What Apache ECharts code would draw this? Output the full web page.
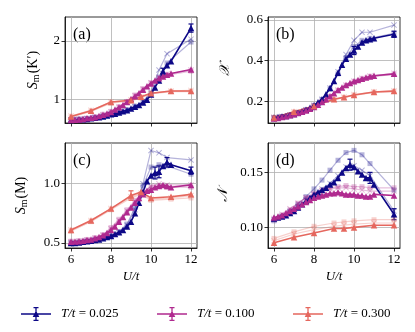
<!DOCTYPE html>
<html>
<head>
<meta charset="utf-8">
<script src="https://cdn.jsdelivr.net/npm/echarts@6/dist/echarts.min.js"></script>
<style>
  html, body { margin: 0; padding: 0; background: #fff; }
  #chart { width: 415px; height: 332px; }
</style>
</head>
<body>
<div id="chart"></div>
<script>
// x grids
const U_DENSE = [6, 6.2, 6.4, 6.6, 6.8, 7, 7.2, 7.4, 7.6, 7.8, 8, 8.2, 8.4, 8.6, 8.8, 9, 9.2, 9.4, 9.6, 9.8, 10, 10.2, 10.4, 10.6, 10.8, 11, 12];
const U_FADE = [6, 6.4, 6.8, 7.2, 7.6, 8, 8.4, 8.8, 9.2, 9.6, 10, 10.4, 10.8, 12];
const U_HOT = [6, 7, 8, 9, 9.5, 10, 11, 12];

const TEMPS = ['T/t = 0.025', 'T/t = 0.100', 'T/t = 0.300'];

// (a) S_m(K')
const aNavy = [0.64, 0.645, 0.65, 0.655, 0.66, 0.67, 0.68, 0.69, 0.70, 0.72, 0.74, 0.75, 0.77, 0.79, 0.81, 0.84, 0.87, 0.90, 0.94, 0.99, 1.08, 1.20, 1.32, 1.48, 1.58, 1.65, 2.22];
const aMagenta = [0.64, 0.645, 0.65, 0.66, 0.67, 0.68, 0.69, 0.71, 0.73, 0.755, 0.78, 0.82, 0.86, 0.90, 0.95, 1.00, 1.05, 1.10, 1.16, 1.22, 1.27, 1.32, 1.36, 1.39, 1.42, 1.44, 1.51];
const aSalmon = [0.70, 0.80, 0.95, 0.98, 1.04, 1.10, 1.14, 1.14];
const aNavyX = [0.64, 0.65, 0.66, 0.68, 0.70, 0.74, 0.77, 0.81, 0.87, 0.96, 1.12, 1.50, 1.78, 2.03];
const aNavySq = [0.65, 0.655, 0.665, 0.685, 0.71, 0.745, 0.78, 0.82, 0.88, 0.95, 1.10, 1.38, 1.62, 1.98];
const aMagentaX = [0.64, 0.65, 0.67, 0.69, 0.73, 0.78, 0.86, 0.95, 1.06, 1.17, 1.28, 1.37, 1.43, 1.50];
const aMagentaSq = [0.65, 0.66, 0.67, 0.70, 0.74, 0.79, 0.87, 0.96, 1.07, 1.18, 1.28, 1.36, 1.41, 1.48];
const aSalmonX = [0.71, 0.81, 0.95, 0.99, 1.04, 1.10, 1.14, 1.15];
const aSalmonSq = [0.69, 0.79, 0.93, 0.97, 1.02, 1.09, 1.13, 1.13];
const aNavyErr = [[10.6, 0.05], [12, 0.07]];

// (b) chi
const bNavy = [0.12, 0.122, 0.125, 0.128, 0.132, 0.137, 0.143, 0.15, 0.158, 0.168, 0.18, 0.195, 0.21, 0.235, 0.265, 0.30, 0.34, 0.38, 0.41, 0.43, 0.45, 0.47, 0.49, 0.50, 0.505, 0.51, 0.53];
const bMagenta = [0.115, 0.118, 0.122, 0.126, 0.131, 0.136, 0.142, 0.148, 0.155, 0.163, 0.172, 0.183, 0.196, 0.21, 0.225, 0.24, 0.255, 0.268, 0.28, 0.29, 0.298, 0.305, 0.311, 0.317, 0.322, 0.326, 0.335];
const bSalmon = [0.12, 0.148, 0.177, 0.21, 0.22, 0.231, 0.246, 0.25];
const bNavyX = [0.12, 0.125, 0.132, 0.143, 0.158, 0.18, 0.21, 0.265, 0.345, 0.43, 0.50, 0.54, 0.54, 0.575];
const bNavySq = [0.12, 0.125, 0.131, 0.142, 0.157, 0.178, 0.208, 0.26, 0.335, 0.415, 0.47, 0.50, 0.51, 0.535];
const bMagentaX = [0.115, 0.122, 0.131, 0.142, 0.155, 0.172, 0.196, 0.225, 0.255, 0.28, 0.30, 0.313, 0.324, 0.338];
const bMagentaSq = [0.114, 0.121, 0.13, 0.141, 0.154, 0.17, 0.194, 0.222, 0.252, 0.277, 0.296, 0.309, 0.32, 0.332];
const bSalmonX = [0.121, 0.149, 0.178, 0.211, 0.221, 0.233, 0.247, 0.252];
const bSalmonSq = [0.119, 0.146, 0.175, 0.208, 0.218, 0.229, 0.244, 0.248];
const bNavyErr = [[10, 0.02], [12, 0.015]];

// (c) S_m(M)
const cNavy = [0.50, 0.50, 0.505, 0.51, 0.515, 0.52, 0.525, 0.53, 0.54, 0.55, 0.56, 0.575, 0.59, 0.61, 0.64, 0.68, 0.75, 0.84, 0.93, 1.02, 1.07, 1.09, 1.10, 1.15, 1.18, 1.16, 1.11];
const cMagenta = [0.51, 0.512, 0.515, 0.52, 0.525, 0.53, 0.54, 0.55, 0.565, 0.585, 0.61, 0.64, 0.68, 0.72, 0.76, 0.80, 0.84, 0.88, 0.91, 0.94, 0.95, 0.97, 0.98, 0.99, 0.98, 0.97, 0.99];
const cSalmon = [0.61, 0.69, 0.79, 0.90, 0.93, 0.88, 0.89, 0.91];
const cNavyX = [0.50, 0.505, 0.515, 0.525, 0.54, 0.56, 0.59, 0.65, 0.78, 1.00, 1.28, 1.26, 1.22, 1.20];
const cNavySq = [0.50, 0.505, 0.515, 0.525, 0.54, 0.56, 0.595, 0.66, 0.80, 0.98, 1.14, 1.16, 1.15, 1.08];
const cMagentaX = [0.51, 0.515, 0.525, 0.54, 0.565, 0.62, 0.69, 0.77, 0.85, 0.92, 0.98, 1.00, 0.99, 0.99];
const cMagentaSq = [0.515, 0.52, 0.53, 0.545, 0.57, 0.63, 0.70, 0.78, 0.86, 0.93, 0.97, 0.98, 0.97, 0.97];
const cSalmonX = [0.61, 0.69, 0.79, 0.89, 0.92, 0.87, 0.88, 0.90];
const cSalmonSq = [0.60, 0.68, 0.78, 0.88, 0.91, 0.86, 0.87, 0.88];
const cNavyErr = [[10.2, 0.05], [10.4, 0.05], [10.8, 0.04], [12, 0.03]];
const cSalmonErr = [[9, 0.04]];

// (d) N
const dNavy = [0.108, 0.109, 0.110, 0.111, 0.113, 0.115, 0.118, 0.121, 0.124, 0.127, 0.130, 0.132, 0.134, 0.136, 0.139, 0.141, 0.145, 0.150, 0.154, 0.157, 0.155, 0.151, 0.148, 0.145, 0.145, 0.139, 0.112];
const dMagenta = [0.109, 0.110, 0.111, 0.113, 0.115, 0.117, 0.119, 0.121, 0.123, 0.125, 0.127, 0.128, 0.129, 0.130, 0.131, 0.131, 0.132, 0.131, 0.130, 0.130, 0.130, 0.129, 0.129, 0.128, 0.128, 0.130, 0.129];
const dSalmon = [0.086, 0.091, 0.095, 0.099, 0.099, 0.100, 0.102, 0.102];
const dNavyX = [0.107, 0.11, 0.114, 0.119, 0.125, 0.13, 0.135, 0.14, 0.147, 0.155, 0.156, 0.152, 0.147, 0.115];
const dNavySq = [0.106, 0.11, 0.115, 0.121, 0.128, 0.135, 0.143, 0.152, 0.161, 0.168, 0.17, 0.166, 0.158, 0.134];
const dMagentaX = [0.108, 0.112, 0.117, 0.122, 0.127, 0.13, 0.133, 0.135, 0.136, 0.136, 0.135, 0.134, 0.133, 0.133];
const dMagentaSq = [0.107, 0.111, 0.116, 0.122, 0.127, 0.131, 0.134, 0.136, 0.137, 0.138, 0.137, 0.137, 0.136, 0.136];
const dSalmonX = [0.088, 0.094, 0.098, 0.101, 0.102, 0.103, 0.104, 0.104];
const dSalmonSq = [0.090, 0.096, 0.101, 0.104, 0.105, 0.106, 0.107, 0.107];
const dNavyErr = [[9.8, 0.005], [10.8, 0.005], [12, 0.005]];

const COLORS = ['#0d0887', '#b02a8f', '#e5675e'];
const SERIF = 'Liberation Serif';
const X_MARK = 'path://M0,1.2L1.2,0L5,3.8L8.8,0L10,1.2L6.2,5L10,8.8L8.8,10L5,6.2L1.2,10L0,8.8L3.8,5Z';
const LEGEND_ICON = 'path://M0,6.3H30V7.7H0Z M14.35,0.5H15.65V13.5H14.35Z M12.5,0H17.5V1.2H12.5Z M12.5,12.8H17.5V14H12.5Z M15,3.5L18.3,10H11.7Z';

const panels = [
  { tag: '(a)', grid: { left: 65, top: 17, width: 132, height: 106 },
    ymin: 0.59, ymax: 2.41, ticks: [1, 2], dec: 0, nameGap: 24,
    yname: '{i|S}{sub|m}{n|(K′)}', xlabels: false,
    solid: [aNavy, aMagenta, aSalmon], fx: [aNavyX, aMagentaX, aSalmonX], fs: [aNavySq, aMagentaSq, aSalmonSq],
    err: [aNavyErr, [], []] },
  { tag: '(b)', grid: { left: 268, top: 17, width: 132, height: 106 },
    ymin: 0.093, ymax: 0.615, ticks: [0.2, 0.4, 0.6], dec: 1, nameGap: 36,
    yname: '{i|𝒳}', xlabels: false,
    solid: [bNavy, bMagenta, bSalmon], fx: [bNavyX, bMagentaX, bSalmonX], fs: [bNavySq, bMagentaSq, bSalmonSq],
    err: [bNavyErr, [], []] },
  { tag: '(c)', grid: { left: 65, top: 143, width: 132, height: 105 },
    ymin: 0.458, ymax: 1.343, ticks: [0.5, 1.0], dec: 1, nameGap: 36,
    yname: '{i|S}{sub|m}{n|(M)}', xlabels: true,
    solid: [cNavy, cMagenta, cSalmon], fx: [cNavyX, cMagentaX, cSalmonX], fs: [cNavySq, cMagentaSq, cSalmonSq],
    err: [cNavyErr, [], cSalmonErr] },
  { tag: '(d)', grid: { left: 268, top: 143, width: 132, height: 105 },
    ymin: 0.0813, ymax: 0.1767, ticks: [0.10, 0.15], dec: 2, nameGap: 38,
    yname: '{i|𝒩}', xlabels: true,
    solid: [dNavy, dMagenta, dSalmon], fx: [dNavyX, dMagentaX, dSalmonX], fs: [dNavySq, dMagentaSq, dSalmonSq],
    err: [dNavyErr, [], []] }
];

const xsFor = k => (k === 2 ? U_HOT : null);
const pairs = (xs, ys) => xs.map((x, i) => [x, ys[i]]);

const grids = [], xAxes = [], yAxes = [], series = [], graphics = [];

panels.forEach((p, pi) => {
  grids.push(Object.assign({ show: true, borderColor: '#000', borderWidth: 0.8, backgroundColor: 'transparent' }, p.grid));
  xAxes.push({
    type: 'value', gridIndex: pi, min: 5.7, max: 12.3,
    name: p.xlabels ? 'U/t' : '', nameLocation: 'middle', nameGap: 22,
    nameTextStyle: { fontFamily: SERIF, fontStyle: 'italic', fontSize: 13, color: '#000' },
    axisLine: { lineStyle: { color: '#000', width: 0.8 } },
    axisTick: { show: true, length: 3.5, customValues: [6, 8, 10, 12], lineStyle: { color: '#000', width: 0.8 } },
    axisLabel: { show: p.xlabels, customValues: [6, 8, 10, 12], margin: 5, fontFamily: SERIF, fontSize: 13, color: '#000' },
    splitLine: { show: true, lineStyle: { color: '#b0b0b0', width: 0.8 } }
  });
  yAxes.push({
    type: 'value', gridIndex: pi, min: p.ymin, max: p.ymax,
    name: p.yname, nameLocation: 'middle', nameGap: p.nameGap, nameRotate: 90,
    nameTextStyle: {
      color: '#000',
      rich: {
        i: { fontFamily: SERIF, fontStyle: 'italic', fontSize: 14, color: '#000' },
        sub: { fontFamily: SERIF, fontSize: 10, color: '#000', padding: [6, 1, 0, 0] },
        n: { fontFamily: SERIF, fontSize: 14, color: '#000' }
      }
    },
    axisLine: { lineStyle: { color: '#000', width: 0.8 } },
    axisTick: { show: true, length: 3.5, customValues: p.ticks, lineStyle: { color: '#000', width: 0.8 } },
    axisLabel: { customValues: p.ticks, margin: 5, fontFamily: SERIF, fontSize: 13, color: '#000',
      formatter: v => v.toFixed(p.dec) },
    splitLine: { show: true, lineStyle: { color: '#b0b0b0', width: 0.8 } }
  });

  // faded companions first
  [0, 1, 2].forEach(k => {
    const xs = xsFor(k) || U_FADE;
    [[p.fx[k], X_MARK, 6], [p.fs[k], 'rect', 5]].forEach(([ys, sym, sz]) => {
      series.push({
        type: 'line', xAxisIndex: pi, yAxisIndex: pi, data: pairs(xs, ys),
        symbol: sym, symbolSize: sz, silent: true,
        lineStyle: { color: COLORS[k], width: 1.2, opacity: 0.3 },
        itemStyle: { color: COLORS[k], opacity: 0.3 }
      });
    });
  });

  // main series with error bars
  [0, 1, 2].forEach(k => {
    const xs = xsFor(k) || U_DENSE;
    const ys = p.solid[k];
    series.push({
      name: TEMPS[k], type: 'line', xAxisIndex: pi, yAxisIndex: pi, data: pairs(xs, ys),
      symbol: 'triangle', symbolSize: 6.5,
      lineStyle: { color: COLORS[k], width: 1.6 },
      itemStyle: { color: COLORS[k] }
    });
    if (p.err[k].length) {
      const color = COLORS[k];
      series.push({
        type: 'custom', xAxisIndex: pi, yAxisIndex: pi, silent: true,
        data: p.err[k].map(([x, e]) => [x, ys[xs.indexOf(x)], e]),
        renderItem: (params, api) => {
          const x = api.value(0), y = api.value(1), e = api.value(2);
          const t = api.coord([x, y + e]), b = api.coord([x, y - e]);
          const w = 2.5, st = { stroke: color, lineWidth: 1.2 };
          return { type: 'group', children: [
            { type: 'line', shape: { x1: t[0], y1: t[1], x2: b[0], y2: b[1] }, style: st },
            { type: 'line', shape: { x1: t[0] - w, y1: t[1], x2: t[0] + w, y2: t[1] }, style: st },
            { type: 'line', shape: { x1: b[0] - w, y1: b[1], x2: b[0] + w, y2: b[1] }, style: st }
          ] };
        }
      });
    }
  });

  graphics.push({
    type: 'text', left: p.grid.left + 8, top: p.grid.top + 10,
    style: { text: p.tag, font: '16px "' + SERIF + '"', fill: '#000' }
  });
});

const legendStarts = [16, 152, 288];
const legends = TEMPS.map((name, k) => ({
  data: [{ name: name, icon: LEGEND_ICON, itemStyle: { color: COLORS[k], opacity: 1 } }],
  left: legendStarts[k], top: 302, itemWidth: 30, itemHeight: 14, itemGap: 0,
  selectedMode: false,
  formatter: n => '{i|T/t}{n| = ' + n.split('= ')[1] + '}',
  textStyle: {
    padding: [0, 0, 0, 5],
    rich: {
      i: { fontFamily: SERIF, fontStyle: 'italic', fontSize: 13, color: '#000' },
      n: { fontFamily: SERIF, fontSize: 13, color: '#000' }
    }
  }
}));

const chart = echarts.init(document.getElementById('chart'), null, { renderer: 'canvas' });
chart.setOption({
  animation: false,
  backgroundColor: '#fff',
  grid: grids,
  xAxis: xAxes,
  yAxis: yAxes,
  legend: legends,
  graphic: graphics,
  series: series
});
</script>
</body>
</html>
